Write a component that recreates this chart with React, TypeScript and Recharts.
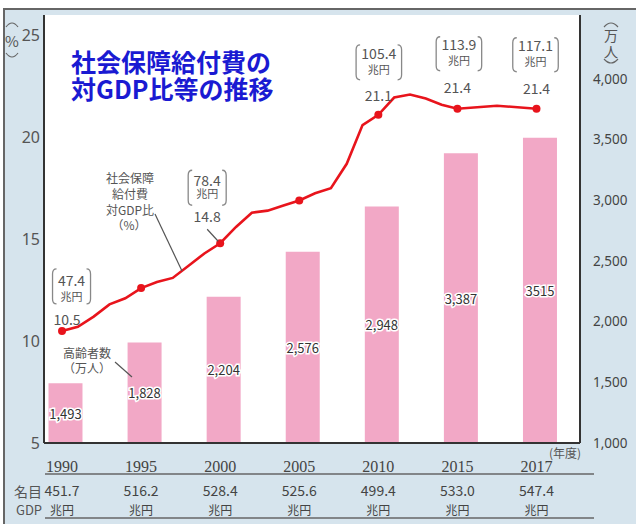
import React from "react";
import {
  ComposedChart,
  Bar,
  Line,
  XAxis,
  YAxis,
  CartesianGrid,
  LabelList
} from "recharts";

// 年度 / 高齢者数(万人) / 名目GDP(兆円)
const years = ["1990", "1995", "2000", "2005", "2010", "2015", "2017"];
const elderly = [1493, 1828, 2204, 2576, 2948, 3387, 3515];
const elderlyLabels = ["1,493", "1,828", "2,204", "2,576", "2,948", "3,387", "3515"];
const gdp = ["451.7", "516.2", "528.4", "525.6", "499.4", "533.0", "547.4"];

// 社会保障給付費 対GDP比(%) 毎年
const ratioYears = [
  1990, 1991, 1992, 1993, 1994, 1995, 1996, 1997, 1998, 1999, 2000, 2001, 2002, 2003,
  2004, 2005, 2006, 2007, 2008, 2009, 2010, 2011, 2012, 2013, 2014, 2015, 2016, 2017
];
const ratio = [
  10.5, 10.7, 11.2, 11.8, 12.1, 12.6, 12.9, 13.1, 13.7, 14.3, 14.8, 15.6, 16.3, 16.4,
  16.65, 16.9, 17.25, 17.5, 18.7, 20.6, 21.1, 21.95, 22.1, 21.9, 21.6, 21.4, 21.55, 21.4
];

// 給付費(兆円)の吹き出し
const calloutYears = [1990, 2000, 2010, 2015, 2017];
const benefits = ["47.4", "78.4", "105.4", "113.9", "117.1"];

const leftTicks = [5, 10, 15, 20, 25];
const rightTicks = [1000, 1500, 2000, 2500, 3000, 3500, 4000];

const barData = years.map((y, i) => ({ x: i, elderly: elderly[i], label: elderlyLabels[i] }));
const xPos = (yr: number) => (yr <= 2015 ? (yr - 1990) / 5 : yr === 2016 ? 5.5 : 6);
const lineData = ratioYears.map((yr, i) => ({ x: xPos(yr), year: yr, ratio: ratio[i] }));
const markerYears = years.map(Number);

const RED = "#e8141c";
const PINK = "#f2a8c6";
const GRAY = "#555";
const JP = "'Noto Sans CJK JP', 'Noto Sans', sans-serif";
const SERIF = "'Liberation Serif', 'DejaVu Serif', serif";

// offsets of each callout from its marker
const calloutLayout: Record<number, any> = {
  1990: { bx: 9.5, top: -62, bottom: -27, l1: -51, l2: -35, vx: 5, vy: -12 },
  2000: { bx: -13, top: -73, bottom: -38, l1: -63, l2: -50, vx: -13, vy: -27, leader: true },
  2010: { bx: 0.5, top: -70, bottom: -35, l1: -62, l2: -46, vx: 0, vy: -20 },
  2015: { bx: 1.5, top: -72, bottom: -38, l1: -65, l2: -49, vx: 0, vy: -22 },
  2017: { bx: -1, top: -71, bottom: -37, l1: -64, l2: -48, vx: 0, vy: -21 }
};

const bracket = (cx: number, top: number, bottom: number, w: number) => {
  const l = cx - w / 2;
  const r = cx + w / 2;
  return (
    `M${l + 4},${top} Q${l},${top} ${l},${top + 5} L${l},${bottom - 5} Q${l},${bottom} ${l + 4},${bottom} ` +
    `M${r - 4},${top} Q${r},${top} ${r},${top + 5} L${r},${bottom - 5} Q${r},${bottom} ${r - 4},${bottom}`
  );
};

const renderCallout = (props: any) => {
  const { x, y, index } = props;
  const pt = lineData[index];
  const k = pt ? calloutYears.indexOf(pt.year) : -1;
  if (k < 0) return <g key={`c${index}`} />;
  const c = calloutLayout[pt.year];
  const bx = x + c.bx;
  const w = benefits[k].length * 7.5 + 8;
  return (
    <g key={`c${index}`} fontFamily={JP} fill={GRAY}>
      <path d={bracket(bx, y + c.top, y + c.bottom, w)} fill="none" stroke="#888" strokeWidth={1.3} />
      <text x={bx} y={y + c.l1} textAnchor="middle" dominantBaseline="central" fontSize={14}>
        {benefits[k]}
      </text>
      <text x={bx} y={y + c.l2} textAnchor="middle" dominantBaseline="central" fontSize={11}>
        兆円
      </text>
      <text x={x + c.vx} y={y + c.vy} textAnchor="middle" dominantBaseline="central" fontSize={14}>
        {pt.ratio.toFixed(1)}
      </text>
      {c.leader && <line x1={x - 13} y1={y - 14} x2={x - 2} y2={y - 2} stroke="#555" strokeWidth={1.2} />}
    </g>
  );
};

const renderDot = (props: any) => {
  const { cx, cy, index, payload } = props;
  if (!markerYears.includes(payload.year)) return <g key={`d${index}`} />;
  return <circle key={`d${index}`} cx={cx} cy={cy} r={4} fill={RED} />;
};

const renderBarLabel = (props: any) => {
  const { x, y, width, height, value } = props;
  return (
    <text
      x={x + width / 2}
      y={y + height / 2}
      textAnchor="middle"
      dominantBaseline="central"
      fontFamily={JP}
      fontSize={13}
      fill="#333"
      stroke="#fff"
      strokeWidth={3}
      paintOrder="stroke"
    >
      {value}
    </text>
  );
};

const YearTick = (props: any) => {
  const { x, y, payload } = props;
  const i = payload.value;
  return (
    <g fill="#444">
      <text x={x} y={y + 23} textAnchor="middle" dominantBaseline="central" fontFamily={SERIF} fontSize={16}>
        {years[i]}
      </text>
      <text x={x} y={y + 47} textAnchor="middle" dominantBaseline="central" fontFamily={JP} fontSize={14}>
        {gdp[i]}
      </text>
      <text x={x} y={y + 66} textAnchor="middle" dominantBaseline="central" fontFamily={JP} fontSize={12}>
        兆円
      </text>
    </g>
  );
};

const axisLine = { stroke: "#333", strokeWidth: 2 };

export default function App() {
  return (
    <div style={{ position: "absolute", left: 0, top: 0, width: 636, height: 524, background: "#fff" }}>
      <div
        style={{
          position: "absolute",
          left: 3,
          top: 8,
          width: 633,
          height: 516,
          background: "#d6e4ed",
          borderTop: "2px solid #666",
          borderLeft: "2px solid #666",
          boxSizing: "border-box"
        }}
      />
      <div style={{ position: "absolute", left: 0, top: 0 }}>
        <ComposedChart width={636} height={524} data={barData} margin={{ top: 15, right: 0, bottom: 0, left: 0 }}>
          <CartesianGrid xAxisId="bar" yAxisId="left" fill="#fff" horizontal={false} vertical={false} />
          <XAxis
            xAxisId="line"
            dataKey="x"
            type="number"
            domain={[-0.228, 6.55]}
            allowDataOverflow
            ticks={[0, 1, 2, 3, 4, 5, 6]}
            interval={0}
            tick={<YearTick />}
            tickLine={false}
            tickSize={0}
            tickMargin={0}
            height={81}
            axisLine={axisLine}
          />
          <XAxis xAxisId="bar" dataKey="x" type="number" domain={[-0.266, 6.512]} allowDataOverflow hide height={0} />
          <XAxis
            xAxisId="top"
            orientation="top"
            type="number"
            domain={[0, 1]}
            tick={false}
            tickLine={false}
            height={0}
            axisLine={axisLine}
          />
          <YAxis
            yAxisId="left"
            type="number"
            domain={[5, 26]}
            ticks={leftTicks}
            interval={0}
            width={44}
            tickLine={false}
            tickSize={0}
            tickMargin={4}
            axisLine={axisLine}
            tick={{ fill: GRAY, fontSize: 16, fontFamily: "'Noto Sans', sans-serif" }}
          />
          <YAxis
            yAxisId="right"
            orientation="right"
            type="number"
            domain={[1000, 4525]}
            ticks={rightTicks}
            interval={0}
            width={56}
            tickLine={false}
            tickSize={0}
            tickMargin={13}
            axisLine={axisLine}
            tickFormatter={(v: number) => v.toLocaleString("en-US")}
            tick={{ fill: "#444", fontSize: 13.5, fontFamily: "'Noto Sans', sans-serif" }}
          />
          <Bar xAxisId="bar" yAxisId="right" dataKey="elderly" fill={PINK} barSize={34} isAnimationActive={false}>
            <LabelList dataKey="label" content={renderBarLabel} />
          </Bar>
          <Line
            xAxisId="line"
            yAxisId="left"
            data={lineData}
            dataKey="ratio"
            type="linear"
            stroke={RED}
            strokeWidth={2.6}
            dot={renderDot}
            activeDot={false}
            label={renderCallout}
            isAnimationActive={false}
          />
        </ComposedChart>
      </div>
      <svg width={636} height={524} style={{ position: "absolute", left: 0, top: 0, pointerEvents: "none" }}>
        <g fontFamily={JP} fontWeight={700} fontSize={25} fill="#1a1ad2">
          <text x={71} y={61} dominantBaseline="central">社会保障給付費の</text>
          <text x={71} y={88} dominantBaseline="central">対GDP比等の推移</text>
        </g>
        <g fill="none" stroke="#666" strokeWidth={1.2}>
          <path d="M6,27 Q12,19 18,27" />
          <path d="M6,53 Q12,61 18,53" />
          <path d="M604,27 Q611,19 618,27" />
          <path d="M604,59 Q611,67 618,59" />
        </g>
        <g fontFamily={JP} fill={GRAY} textAnchor="middle" dominantBaseline="central">
          <text x={12} y={40} fontSize={15}>%</text>
          <text x={611} y={35} fontSize={14}>万</text>
          <text x={611} y={51} fontSize={14}>人</text>
          <text x={565} y={452} fontSize={12}>(年度)</text>
          <text x={130} y={177} fontSize={12}>社会保障</text>
          <text x={130} y={193} fontSize={12}>給付費</text>
          <text x={130} y={209} fontSize={12}>対GDP比</text>
          <text x={129} y={224} fontSize={12}>（%）</text>
          <text x={87} y={352} fontSize={12}>高齢者数</text>
          <text x={87} y={367} fontSize={12}>（万人）</text>
          <text x={28} y={491} fontSize={14}>名目</text>
          <text x={29} y={509} fontSize={13}>GDP</text>
        </g>
        <line x1={155} y1={214} x2={182} y2={271} stroke="#555" strokeWidth={1.2} />
        <line x1={115} y1={362} x2={132} y2={377} stroke="#555" strokeWidth={1.2} />
        <line x1={45} y1={474} x2={594} y2={474} stroke="#666" strokeWidth={1.5} />
        <line x1={45} y1={518} x2={594} y2={518} stroke="#666" strokeWidth={1.5} />
      </svg>
    </div>
  );
}
